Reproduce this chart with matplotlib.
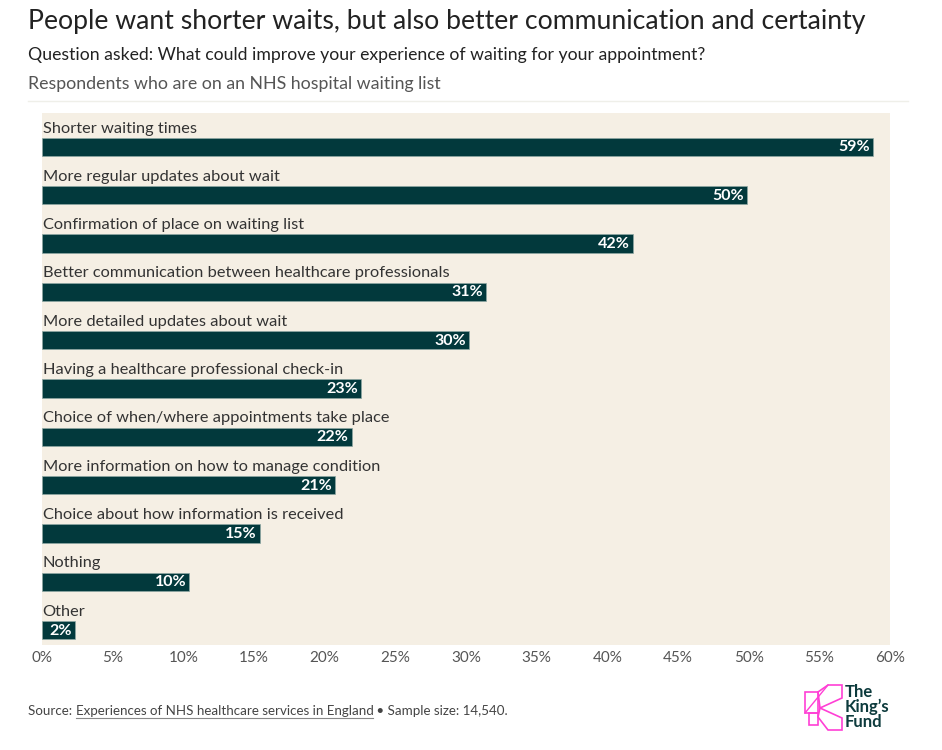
import matplotlib
matplotlib.use("Agg")
import matplotlib.pyplot as plt
from matplotlib.lines import Line2D
from matplotlib.patches import Polygon

plt.rcParams['font.family'] = ['Lato', 'DejaVu Sans']

categories = [
    "Shorter waiting times",
    "More regular updates about wait",
    "Confirmation of place on waiting list",
    "Better communication between healthcare professionals",
    "More detailed updates about wait",
    "Having a healthcare professional check-in",
    "Choice of when/where appointments take place",
    "More information on how to manage condition",
    "Choice about how information is received",
    "Nothing",
    "Other",
]
# bar lengths (labels are the rounded figures)
values = [58.8, 49.9, 41.8, 31.4, 30.2, 22.6, 21.9, 20.7, 15.4, 10.4, 2.3]
labels = ["59%", "50%", "42%", "31%", "30%", "23%", "22%", "21%", "15%", "10%", "2%"]
xticks = list(range(0, 61, 5))

W, H = 942, 750
bar_col = '#02393c'
panel_col = '#f5efe4'

fig = plt.figure(figsize=(W / 100, H / 100), dpi=100)

def fx(px):
    return px / W

def fy(py):
    return 1 - py / H

# axes: panel spans 0%..60%
ax = fig.add_axes([fx(42), fy(645), fx(890) - fx(42), fy(113) - fy(645)])
ax.set_facecolor(panel_col)
for s in ax.spines.values():
    s.set_visible(False)

ypos = list(range(len(categories)))
bar_h = 0.38
ax.barh(ypos, values, height=bar_h, color=bar_col, edgecolor='#8fa8a4', linewidth=0.5)

for y, cat, v, lab in zip(ypos, categories, values, labels):
    ax.text(0.05, y - 0.30, cat, ha='left', va='baseline', fontsize=11.8, color='#333333')
    ax.text(v - 0.2, y + 0.01, lab, ha='right', va='center', fontsize=11.5,
            fontweight='bold', color='white')

ax.set_xlim(0, 60)
ax.set_ylim(10.31, -0.704)
ax.set_yticks([])
ax.set_xticks(xticks)
ax.set_xticklabels([f"{t}%" for t in xticks], fontsize=11, color='#555555')
ax.tick_params(axis='x', length=0, pad=4)

# titles
fig.text(fx(28), fy(22), "People want shorter waits, but also better communication and certainty",
         fontsize=19.2, color='#222222', va='center', ha='left')
fig.text(fx(28), fy(55), "Question asked: What could improve your experience of waiting for your appointment?",
         fontsize=12.7, color='#222222', va='center', ha='left')
fig.text(fx(28), fy(84), "Respondents who are on an NHS hospital waiting list",
         fontsize=12.8, color='#555555', va='center', ha='left')
fig.add_artist(Line2D([fx(28), fx(908)], [fy(101), fy(101)], color='#efefe9', lw=1))

# source line with underlined link
renderer = fig.canvas.get_renderer()
x = fx(28)
parts = [("Source: ", False), ("Experiences of NHS healthcare services in England", True),
         (" \u2022 Sample size: 14,540.", False)]
for txt, underline in parts:
    t = fig.text(x, fy(711), txt, fontsize=9.6, color='#444444', va='center', ha='left')
    bb = t.get_window_extent(renderer=renderer).transformed(fig.transFigure.inverted())
    if underline:
        fig.add_artist(Line2D([bb.x0, bb.x1], [bb.y0 - 0.001, bb.y0 - 0.001],
                              color='#888888', lw=0.8))
    x = bb.x1

# logo
pink = '#ff3fd5'
shapes = [
    [(805, 692), (818, 692), (818, 713), (805, 713)],
    [(818, 692), (828, 685), (842, 685), (842, 698), (820, 708)],
    [(820, 708), (842, 718), (842, 730), (828, 730), (818, 717)],
    [(809, 713), (818, 713), (818, 725), (809, 725)],
]
for pts in shapes:
    fig.add_artist(Polygon([(fx(a), fy(b)) for a, b in pts], closed=True, fill=False,
                           edgecolor=pink, lw=1.2))
fig.add_artist(Line2D([fx(805), fx(828)], [fy(713), fy(685)], color=pink, lw=1.0))
fig.text(fx(845), fy(707), "The\nKing\u2019s\nFund", fontsize=12, fontweight='bold',
         color='#0d3b3d', va='center', ha='left', linespacing=0.92)

fig.savefig("out.png", dpi=100, facecolor='white')
